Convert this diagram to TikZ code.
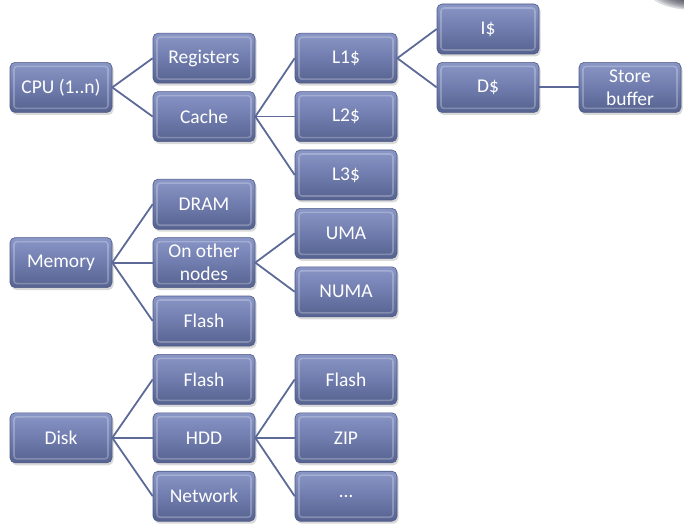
\documentclass[tikz,border=0pt]{standalone}
\usepackage{fontspec}
\setmainfont{Carlito}
\usetikzlibrary{shadows}
\definecolor{boxtop}{HTML}{8996C6}
\definecolor{boxmid}{HTML}{6F7CAD}
\definecolor{boxbot}{HTML}{56628F}
\definecolor{boxedge}{HTML}{4E5A87}
\definecolor{linkcol}{HTML}{5D6A98}
\definecolor{blob}{HTML}{25283A}
\tikzset{
  box/.style={rounded corners=5pt, minimum width=102pt, minimum height=50pt,
    inner sep=2pt, text=white, align=center,
    font=\fontsize{19.5}{23}\selectfont,
    top color=boxtop, bottom color=boxbot, middle color=boxmid,
    draw=boxedge, line width=0.6pt,
    drop shadow={opacity=0.3, shadow xshift=1.5pt, shadow yshift=-2.5pt},
    path picture={
      \draw[white, opacity=0.25, line width=1.6pt, rounded corners=3pt]
        ([shift={(4pt,-4pt)}]path picture bounding box.north west) rectangle
        ([shift={(-4pt,4pt)}]path picture bounding box.south east);
    }},
  link/.style={draw=linkcol, line width=1.8pt}
}
\begin{document}
\begin{tikzpicture}[x=1pt, y=-1pt]
\useasboundingbox (0,0) rectangle (684,529);
\begin{scope}
\clip (0,0) rectangle (684,529);
\foreach \r in {0,...,7} {
  \fill[blob, opacity=0.16] (695,-9) ellipse ({22+3.5*\r} and {10+1.3*\r});
}
\end{scope}
% nodes
\node[box] (cpu)  at (61, 87.4)  {CPU (1..n)};
\node[box] (mem)  at (61, 262.6) {Memory};
\node[box] (disk) at (61, 437.8) {Disk};

\node[box] (reg)   at (204, 58.2)  {Registers};
\node[box] (cache) at (204, 116.6) {Cache};
\node[box] (dram)  at (204, 204.2) {DRAM};
\node[box] (other) at (204, 262.6) {On other\\nodes};
\node[box] (mflash) at (204, 321)  {Flash};
\node[box] (dflash) at (204, 379.4) {Flash};
\node[box] (hdd)   at (204, 437.8) {HDD};
\node[box] (net)   at (204, 496.2) {Network};

\node[box] (l1) at (346, 58.2)  {L1\$};
\node[box] (l2) at (346, 116.6) {L2\$};
\node[box] (l3) at (346, 175)   {L3\$};
\node[box] (uma)  at (346, 233.4) {UMA};
\node[box] (numa) at (346, 291.8) {NUMA};
\node[box] (hflash) at (346, 379.4) {Flash};
\node[box] (zip)  at (346, 437.8) {ZIP};
\node[box] (dots) at (346, 496.2) {…};

\node[box] (icache) at (488, 29)   {I\$};
\node[box] (dcache) at (488, 87.4) {D\$};
\node[box] (sbuf)   at (630, 87.4) {Store\\buffer};

\draw[link] (cpu.east) -- (reg.west);
\draw[link] (cpu.east) -- (cache.west);
\draw[link] (cache.east) -- (l1.west);
\draw[link] (cache.east) -- (l2.west);
\draw[link] (cache.east) -- (l3.west);
\draw[link] (l1.east) -- (icache.west);
\draw[link] (l1.east) -- (dcache.west);
\draw[link] (dcache.east) -- (sbuf.west);
\draw[link] (mem.east) -- (dram.west);
\draw[link] (mem.east) -- (other.west);
\draw[link] (mem.east) -- (mflash.west);
\draw[link] (other.east) -- (uma.west);
\draw[link] (other.east) -- (numa.west);
\draw[link] (disk.east) -- (dflash.west);
\draw[link] (disk.east) -- (hdd.west);
\draw[link] (disk.east) -- (net.west);
\draw[link] (hdd.east) -- (hflash.west);
\draw[link] (hdd.east) -- (zip.west);
\draw[link] (hdd.east) -- (dots.west);
\end{tikzpicture}
\end{document}
